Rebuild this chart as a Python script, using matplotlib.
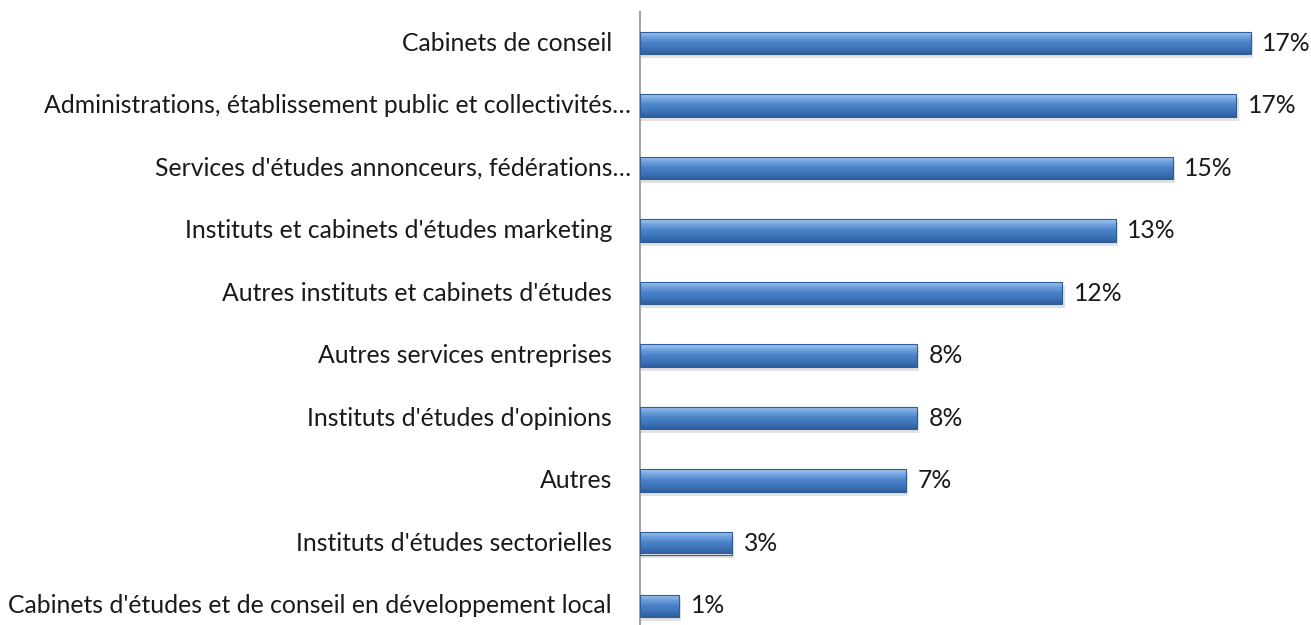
import numpy as np
import matplotlib
matplotlib.use("Agg")
import matplotlib.pyplot as plt
import matplotlib.transforms as mtransforms
from matplotlib.colors import LinearSegmentedColormap

# données (part en %)
categories = [
    "Cabinets de conseil",
    "Administrations, établissement public et collectivités…",
    "Services d'études annonceurs, fédérations…",
    "Instituts et cabinets d'études marketing",
    "Autres instituts et cabinets d'études",
    "Autres services entreprises",
    "Instituts d'études d'opinions",
    "Autres",
    "Instituts d'études sectorielles",
    "Cabinets d'études et de conseil en développement local",
]
valeurs = [17.2, 16.8, 15.0, 13.4, 11.9, 7.8, 7.8, 7.5, 2.6, 1.1]
etiquettes = ["17%", "17%", "15%", "13%", "12%", "8%", "8%", "7%", "3%", "1%"]

plt.rcParams['font.family'] = ['Lato', 'DejaVu Sans']
taille = 17.8

W, H = 1311, 625
fig = plt.figure(figsize=(W / 100, H / 100), dpi=100)
x0 = 640 / W
ax = fig.add_axes([x0, 0, 1 - x0, (H - 12) / H])

y = np.arange(len(categories))
hauteur = 0.36
xmax = (W - 640) / 35.5
ax.set_xlim(0, xmax)
ax.set_ylim(-0.5 + (H - 12) / 62.5, -0.5)

cmap = LinearSegmentedColormap.from_list(
    "bleu", ["#a4c9f0", "#6fa1dd", "#4a82c8", "#3e74b9", "#2f5e9c"])
grad = np.linspace(0, 1, 64).reshape(-1, 1)

for yi, v, lab in zip(y, valeurs, etiquettes):
    # ombre
    ax.barh(yi + 0.06, v + 0.06, height=hauteur, color="#d0d0d0",
            alpha=0.6, zorder=1)
    b = ax.barh(yi, v, height=hauteur, color="none", zorder=2)[0]
    im = ax.imshow(grad, cmap=cmap, aspect="auto", zorder=3,
                   extent=[0, v, yi + hauteur / 2, yi - hauteur / 2])
    im.set_clip_path(b)
    ax.barh(yi, v, height=hauteur, color="none", edgecolor="#2f5d98",
            linewidth=0.8, zorder=4)
    ax.text(v + 0.33, yi, lab, va="center", ha="left", fontsize=taille,
            color="#1a1a1a")

# libellés de catégories (ceux tronqués sont plus proches de l'axe)
for yi, cat in zip(y, categories):
    dx = -9 if cat.endswith("…") else -28
    tr = ax.get_yaxis_transform() + mtransforms.ScaledTranslation(
        dx / 100, 0, fig.dpi_scale_trans)
    ax.text(0, yi, cat, transform=tr, ha="right", va="center",
            fontsize=taille, color="#1a1a1a")

ax.set_yticks([])
ax.set_xticks([])
for s in ["top", "right", "bottom"]:
    ax.spines[s].set_visible(False)
ax.spines["left"].set_color("#a6a6a6")
ax.spines["left"].set_linewidth(1.5)

fig.savefig("out.png", dpi=100)
